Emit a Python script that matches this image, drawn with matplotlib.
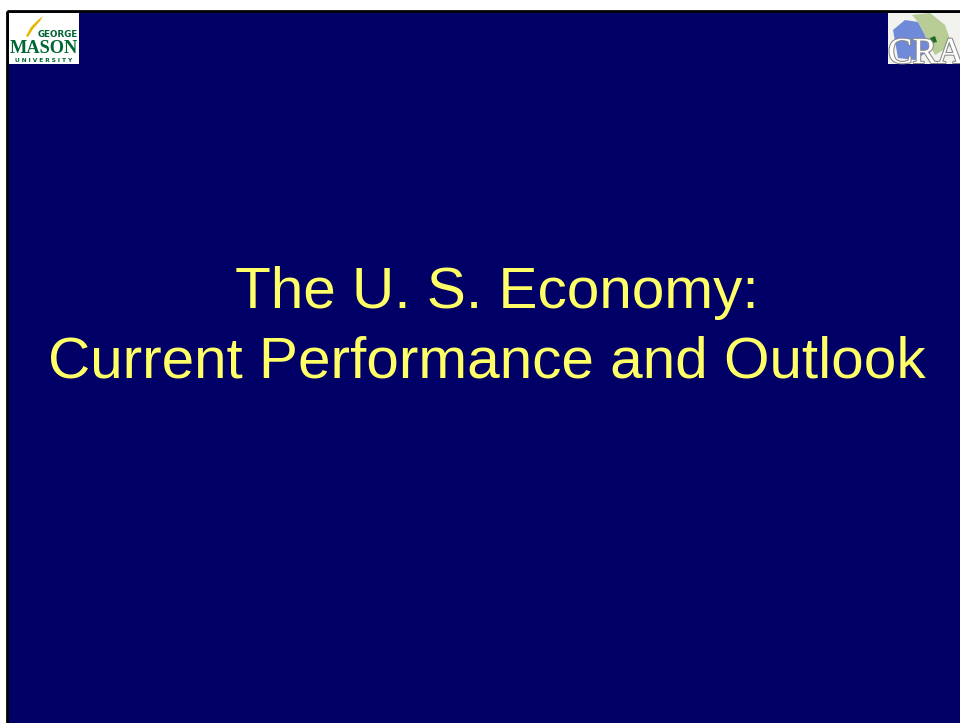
import matplotlib
matplotlib.use("Agg")
import matplotlib.pyplot as plt
from matplotlib.patches import Rectangle, Polygon
import matplotlib.patheffects as pe

title_lines = ["The U. S. Economy:", "Current Performance and Outlook"]
logo_left = ["GEORGE", "MASON", "U N I V E R S I T Y"]
logo_right = "CRA"

W, H = 960, 723
fig = plt.figure(figsize=(W / 100, H / 100), dpi=100)
fig.patch.set_facecolor("white")
ax = fig.add_axes([0, 0, 1, 1])
ax.set_xlim(0, W)
ax.set_ylim(H, 0)
ax.axis("off")

navy = "#000066"
# slide background and border
ax.add_patch(Rectangle((7, 11), W - 7, H - 11, facecolor=navy, edgecolor="none"))
ax.plot([7, 7], [11, H], color="black", lw=2, solid_capstyle="butt")
ax.plot([7, W], [11, 11], color="black", lw=2, solid_capstyle="butt")

# GMU logo
ax.add_patch(Rectangle((9, 13), 70, 51, facecolor="white", edgecolor="none"))
ax.add_patch(Polygon([[26, 36], [31, 27], [38, 20], [43, 16], [40, 21], [33, 29], [28, 37]],
                     closed=True, facecolor="#E8B400", edgecolor="none"))
ax.text(78, 37, logo_left[0], color="#006633", fontsize=6.3, fontweight="bold",
        family="DejaVu Sans", ha="right", va="baseline")
ax.text(44, 53, logo_left[1], color="#006633", fontsize=13.2, fontweight="bold",
        family="Liberation Serif", ha="center", va="baseline")
ax.text(44, 62, logo_left[2], color="#006633", fontsize=4.2, fontweight="bold",
        family="DejaVu Sans", ha="center", va="baseline")

# CRA logo
ax.add_patch(Rectangle((888, 13), 72, 51, facecolor="#f2f2ee", edgecolor="none"))
ax.add_patch(Polygon([[893, 30], [905, 20], [918, 22], [925, 35], [930, 50], [915, 60], [898, 58]],
                     closed=True, facecolor="#6f8ad8", edgecolor="none"))
ax.add_patch(Polygon([[912, 15], [930, 13], [945, 25], [952, 45], [935, 55], [925, 35], [918, 22]],
                     closed=True, facecolor="#b8cc96", edgecolor="none"))
ax.add_patch(Polygon([[930, 38], [935, 36], [937, 42], [932, 43]],
                     closed=True, facecolor="#1f6b1f", edgecolor="none"))
t = ax.text(888, 63, logo_right, color="white", fontsize=26.5, family="Liberation Serif",
            ha="left", va="baseline", clip_on=True)
t.set_path_effects([pe.withStroke(linewidth=1.5, foreground="#888888")])

# title
yellow = "#FFFF66"
ax.text(497, 308, title_lines[0], color=yellow, fontsize=42.1, family="Liberation Sans",
        ha="center", va="baseline")
ax.text(487, 377, title_lines[1], color=yellow, fontsize=42.1, family="Liberation Sans",
        ha="center", va="baseline")

fig.savefig("out.png", dpi=100, facecolor=fig.get_facecolor())
